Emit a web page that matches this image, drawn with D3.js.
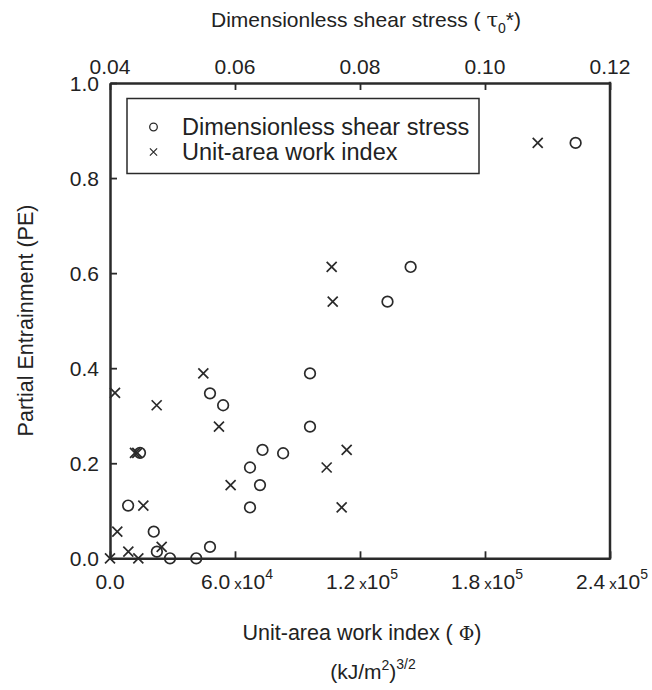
<!DOCTYPE html>
<html><head><meta charset="utf-8">
<script src="https://cdn.jsdelivr.net/npm/d3@7"></script>
<style>body{margin:0;background:#fff}svg{display:block}text{font-family:"Liberation Sans",Arial,sans-serif;fill:#222}</style>
</head><body>
<script>
// Circles: dimensionless shear stress (top axis) vs PE
const tauValues = [0.1145,0.0881,0.0844,0.0720,0.0720,0.0560,0.0581,0.0448,0.0644,0.0677,0.0624,0.0640,0.0624,0.0429,0.0470,0.0475,0.0496,0.0538,0.0560];
const tauPE     = [0.874,0.613,0.540,0.389,0.277,0.347,0.322,0.222,0.228,0.221,0.191,0.154,0.107,0.111,0.056,0.014,0.0,0.0,0.024];
// Crosses: unit-area work index (bottom axis) vs PE
const phiValues = [205300,106400,106900,44800,2400,22400,52300,12000,13100,113600,104000,57900,111200,16000,3500,24800,8800,13600,0];
const phiPE     = [0.874,0.613,0.540,0.389,0.348,0.322,0.277,0.222,0.222,0.228,0.191,0.154,0.107,0.111,0.056,0.024,0.014,0.0,0.0];
const bottomTicks = [0, 60000, 120000, 180000, 240000];
const bottomTickLabels = [["0.0",null],["6.0","4"],["1.2","5"],["1.8","5"],["2.4","5"]];
const topTicks = [0.04,0.06,0.08,0.10,0.12];
const topTickLabels = ["0.04","0.06","0.08","0.10","0.12"];
const leftTicks = [0,0.2,0.4,0.6,0.8,1.0];
const leftTickLabels = ["0.0","0.2","0.4","0.6","0.8","1.0"];

const W=652,H=690, L=110, R=610, T=83, B=558.3;
const svg=d3.select("body").append("svg").attr("width",W).attr("height",H);
const xPhi=d3.scaleLinear().domain([0,240000]).range([L,R]);
const xTau=d3.scaleLinear().domain([0.04,0.12]).range([L,R]);
const y=d3.scaleLinear().domain([0,1]).range([B,T]);
const ink="#2a2a2a", fs=21;

// axes with inward ticks
const gB=svg.append("g").attr("transform",`translate(0,${B})`)
  .call(d3.axisBottom(xPhi).tickValues(bottomTicks).tickSizeInner(-7).tickSizeOuter(0).tickFormat(""));
const gT=svg.append("g").attr("transform",`translate(0,${T})`)
  .call(d3.axisTop(xTau).tickValues(topTicks).tickSizeInner(-7).tickSizeOuter(0).tickFormat(""));
const gL=svg.append("g").attr("transform",`translate(${L},0)`)
  .call(d3.axisLeft(y).tickValues(leftTicks).tickSizeInner(-7).tickSizeOuter(0).tickFormat(""));
[gB,gT,gL].forEach(g=>{g.selectAll("path").attr("stroke",ink).attr("stroke-width",2.5);g.selectAll("line").attr("stroke",ink).attr("stroke-width",1.8);});
svg.append("line").attr("x1",R).attr("x2",R).attr("y1",T-1.2).attr("y2",B+1.2).attr("stroke",ink).attr("stroke-width",2.5);

// tick labels
bottomTicks.forEach((v,i)=>{
  const [m,e]=bottomTickLabels[i];
  const t=svg.append("text").attr("x",xPhi(v)+(e?2:0)).attr("y",589).attr("font-size",fs).attr("text-anchor","middle");
  t.append("tspan").text(m);
  if(e){t.append("tspan").attr("font-size",15).text(" x");
    t.append("tspan").text("10");
    t.append("tspan").attr("font-size",14).attr("dy",-10).text(e);}
});
topTicks.forEach((v,i)=>svg.append("text").attr("x",xTau(v)).attr("y",73.5).attr("font-size",fs).attr("text-anchor","middle").text(topTickLabels[i]));
leftTicks.forEach((v,i)=>svg.append("text").attr("x",L-11).attr("y",y(v)+7.5).attr("font-size",fs).attr("text-anchor","end").text(leftTickLabels[i]));

// axis titles
const tt=svg.append("text").attr("x",366).attr("y",27).attr("font-size",21).attr("text-anchor","middle");
tt.append("tspan").text("Dimensionless shear stress ( ");
tt.append("tspan").attr("font-family","DejaVu Serif").text("τ");
tt.append("tspan").attr("font-size",14).attr("dy",6).text("0");
tt.append("tspan").attr("dy",-6).text("*)");
svg.append("text").attr("transform",`translate(33,320.5) rotate(-90)`).attr("font-size",21.5).attr("text-anchor","middle").text("Partial Entrainment (PE)");
const bt=svg.append("text").attr("x",362).attr("y",640).attr("font-size",21.5).attr("text-anchor","middle");
bt.append("tspan").text("Unit-area work index ( ");
bt.append("tspan").attr("font-family","DejaVu Serif").attr("font-size",19).text("Φ");
bt.append("tspan").text(")");
const ut=svg.append("text").attr("x",373).attr("y",679).attr("font-size",21).attr("text-anchor","middle");
ut.append("tspan").text("(kJ/m");
ut.append("tspan").attr("font-size",14).attr("dy",-9).text("2");
ut.append("tspan").attr("dy",9).text(")");
ut.append("tspan").attr("font-size",14).attr("dy",-10).text("3/2");

// markers
const crossPath=s=>`M${-s},${-s}L${s},${s}M${-s},${s}L${s},${-s}`;
svg.append("g").selectAll("circle").data(tauValues).join("circle")
  .attr("cx",(d)=>xTau(d)).attr("cy",(d,i)=>y(tauPE[i])).attr("r",5.3)
  .attr("fill","none").attr("stroke",ink).attr("stroke-width",1.7);
svg.append("g").selectAll("path").data(phiValues).join("path")
  .attr("transform",(d,i)=>`translate(${xPhi(d)},${y(phiPE[i])})`).attr("d",crossPath(5))
  .attr("fill","none").attr("stroke",ink).attr("stroke-width",1.7);

// legend
svg.append("rect").attr("x",127).attr("y",98.5).attr("width",352).attr("height",75).attr("fill","#fff").attr("stroke",ink).attr("stroke-width",1.5);
svg.append("circle").attr("cx",153.5).attr("cy",127).attr("r",3.8).attr("fill","none").attr("stroke",ink).attr("stroke-width",1.3);
svg.append("path").attr("transform","translate(153.5,152)").attr("d",crossPath(3.6)).attr("fill","none").attr("stroke",ink).attr("stroke-width",1.2);
svg.append("text").attr("x",182).attr("y",135).attr("font-size",23.5).text("Dimensionless shear stress");
svg.append("text").attr("x",182).attr("y",160).attr("font-size",23.5).text("Unit-area work index");
</script>
</body></html>
